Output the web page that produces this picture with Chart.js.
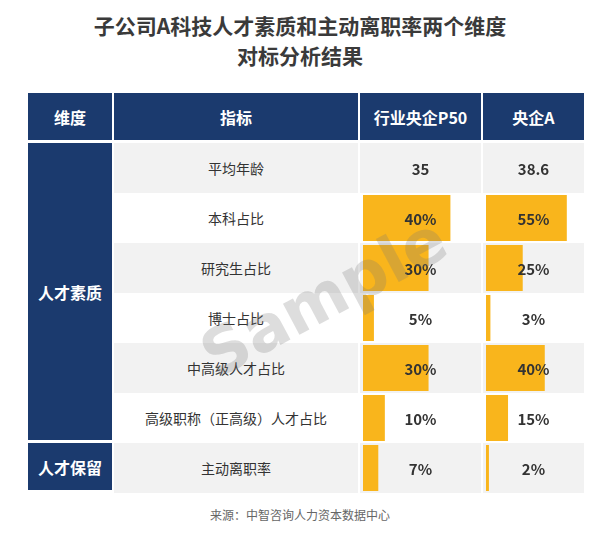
<!DOCTYPE html>
<html><head><meta charset="utf-8">
<script src="https://cdn.jsdelivr.net/npm/chart.js@4/dist/chart.umd.min.js"></script>
<style>
body{margin:0;width:600px;height:538px;background:#fff;font-family:"Noto Sans CJK SC","Noto Sans",sans-serif;position:relative;overflow:hidden}
.t{position:absolute;left:0;width:600px;text-align:center;font-weight:bold;font-size:21px;color:#3a3a3a}
.c{position:absolute;display:flex;align-items:center;justify-content:center;box-sizing:border-box}
.h{background:#1b3a6e;color:#fff;font-weight:bold;font-size:16px}
.v{font-size:15px;color:#333;z-index:2;font-weight:bold}
.n{font-size:14px;color:#333}
canvas{position:absolute}
</style></head><body>
<div class="t" style="top:10px">子公司A科技人才素质和主动离职率两个维度</div>
<div class="t" style="top:40px">对标分析结果</div>
<div id="tbl"></div>
<div style="position:absolute;left:0;width:600px;top:506px;text-align:center;font-size:12px;color:#666">来源：中智咨询人力资本数据中心</div>
<div style="position:absolute;left:190px;top:260px;font-family:'DejaVu Sans';font-weight:bold;font-size:64px;color:rgba(120,120,120,0.25);transform:rotate(-28deg);z-index:5">Sample</div>
<div style="position:absolute;left:360px;top:143px;width:121px;height:350px"><canvas id="c1"></canvas></div>
<div style="position:absolute;left:483px;top:143px;width:101px;height:350px"><canvas id="c2"></canvas></div>
<script>
const headers=["维度","指标","行业央企P50","央企A"];
const indicators=["平均年龄","本科占比","研究生占比","博士占比","中高级人才占比","高级职称（正高级）人才占比","主动离职率"];
const p50Labels=["35","40%","30%","5%","30%","10%","7%"];
const aLabels=["38.6","55%","25%","3%","40%","15%","2%"];
const p50Values=[null,40,30,5,30,10,7];
const aValues=[null,55,25,3,40,15,2];
const groups=[["人才素质",6],["人才保留",1]];

const colX=[28,114,360,483],colW=[84,244,121,101];
const tbl=document.getElementById('tbl');
function cell(x,y,w,h,txt,cls,bg){const d=document.createElement('div');d.className='c '+cls;d.style.cssText=`left:${x}px;top:${y}px;width:${w}px;height:${h}px;`+(bg?`background:${bg};`:'');d.textContent=txt;tbl.appendChild(d);}
headers.forEach((h,i)=>cell(colX[i],93,colW[i],47,h,'h'));
let gy=143;groups.forEach(g=>{cell(28,gy,84,g[1]*50-3,g[0],'h');gy+=g[1]*50;});
indicators.forEach((s,r)=>{const y=143+r*50,bg=r%2==0?'#f2f2f2':'#fff';
 cell(114,y,244,50,s,'n',bg);cell(360,y,121,50,'',"n",bg);cell(483,y,101,50,'','n',bg);
 cell(360,y,121,50,p50Labels[r],'v');cell(483,y,101,50,aLabels[r],'v');});
function mk(id,vals,max,pad){new Chart(document.getElementById(id),{type:'bar',
 data:{labels:indicators,datasets:[{data:vals,backgroundColor:'#f9b51c',barPercentage:0.92,categoryPercentage:1}]},
 options:{indexAxis:'y',responsive:true,maintainAspectRatio:false,animation:false,layout:{padding:{left:pad}},
 plugins:{legend:{display:false},tooltip:{enabled:false}},
 scales:{x:{display:false,min:0,max:max},y:{display:false}}}});}
mk('c1',p50Values,54,3);
mk('c2',aValues,66.7,3);
</script></body></html>
